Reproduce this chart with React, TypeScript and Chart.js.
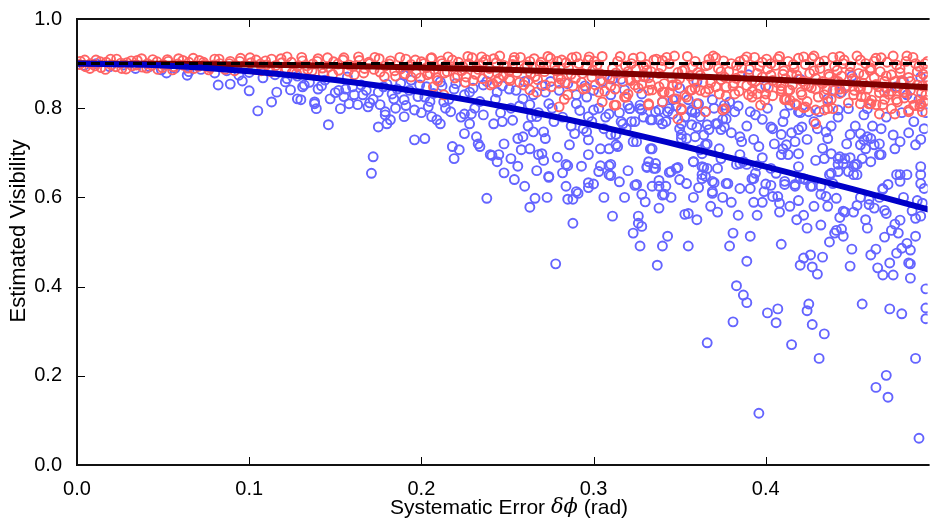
import React, { useEffect, useRef } from "react";
import { Chart, registerables } from "chart.js";

Chart.register(...registerables);

const xTicks = [0, 0.1, 0.2, 0.3, 0.4];
const yTicks = [0, 0.2, 0.4, 0.6, 0.8, 1.0];
const xMax = 0.494;

const curveX = [0, 0.05, 0.1, 0.15, 0.2, 0.25, 0.3, 0.35, 0.4, 0.45, 0.5];
const blueFit = [0.9, 0.896, 0.883, 0.863, 0.836, 0.802, 0.762, 0.717, 0.669, 0.619, 0.567];
const redFit = [0.9, 0.8995, 0.898, 0.895, 0.891, 0.886, 0.88, 0.873, 0.865, 0.856, 0.846];
const idealLevel = 0.9;

const bluePoints: [number, number][] = [
  [0.004,0.896],[0.011,0.9],[0.019,0.893],[0.027,0.897],[0.034,0.889],[0.042,0.893],[0.049,0.886],[0.057,0.89],[0.065,0.882],[0.072,0.887],[0.08,0.879],[0.087,0.884],[0.094,0.874],[0.1,0.88],[0.108,0.868],[0.115,0.875],[0.122,0.866],[0.128,0.872],
  [0.052,0.879],[0.064,0.874],[0.082,0.852],[0.089,0.854],[0.096,0.861],[0.1,0.839],[0.105,0.794],[0.113,0.814],[0.116,0.836],[0.121,0.859],[0.124,0.841],[0.128,0.821],[0.131,0.848],[0.138,0.814],[0.139,0.799],
  [0.13,0.819],[0.138,0.81],[0.146,0.763],[0.147,0.821],[0.153,0.799],[0.158,0.81],[0.163,0.808],[0.166,0.83],[0.169,0.803],[0.172,0.691],[0.171,0.654],[0.175,0.758],[0.176,0.808],[0.179,0.792],[0.179,0.785],[0.18,0.765],[0.182,0.774],[0.184,0.821],[0.19,0.819],[0.19,0.781],[0.196,0.729],[0.202,0.732],[0.196,0.796],[0.202,0.825],[0.204,0.803],[0.206,0.781],[0.209,0.774],[0.211,0.765],[0.213,0.814],[0.217,0.792],[0.218,0.714],[0.219,0.687],[0.222,0.707],[0.225,0.743],[0.225,0.787],[0.228,0.765],[0.229,0.787],[0.232,0.736],[0.233,0.72],[0.234,0.714],[0.238,0.598],[0.24,0.696],[0.242,0.765],[0.244,0.68],[0.245,0.696],[0.248,0.72],[0.247,0.77],[0.252,0.687],[0.254,0.64],[0.256,0.732],[0.259,0.736],[0.258,0.707],[0.263,0.709],[0.265,0.747],[0.264,0.781],[0.266,0.598],
  [0.132,0.852],[0.14,0.843],[0.156,0.843],[0.165,0.852],[0.175,0.836],[0.18,0.854],[0.186,0.843],[0.194,0.863],[0.199,0.852],[0.211,0.859],[0.219,0.843],[0.228,0.836],[0.236,0.852],[0.244,0.836],[0.251,0.843],[0.259,0.821],[0.263,0.808],[0.19,0.874],[0.157,0.87],[0.144,0.863],
  [0.135,0.858],[0.142,0.85],[0.15,0.835],[0.155,0.826],[0.16,0.848],[0.168,0.84],[0.172,0.82],[0.178,0.848],[0.183,0.832],[0.188,0.856],[0.193,0.84],[0.198,0.826],[0.203,0.848],[0.207,0.833],[0.212,0.85],[0.216,0.82],[0.22,0.855],[0.225,0.83],[0.23,0.845],[0.234,0.815],[0.238,0.86],[0.243,0.82],[0.247,0.85],[0.252,0.8],[0.255,0.84],[0.26,0.86],[0.265,0.83],[0.27,0.85],[0.275,0.86],[0.28,0.84],[0.285,0.855],[0.29,0.83],[0.295,0.85],[0.3,0.84],[0.305,0.86],[0.31,0.83],
  [0.152,0.84],[0.161,0.83],[0.17,0.812],[0.185,0.8],[0.191,0.806],[0.2,0.79],[0.205,0.815],[0.214,0.8],[0.223,0.78],[0.231,0.8],[0.236,0.785],[0.246,0.79],[0.253,0.773],[0.257,0.805],[0.262,0.76],[0.268,0.79],[0.276,0.8],[0.282,0.78],[0.287,0.76],[0.292,0.795],[0.299,0.77],[0.303,0.8],[0.307,0.78],[0.315,0.79],[0.319,0.755],[0.329,0.78],[0.336,0.792],[0.342,0.77],[0.348,0.805],[0.353,0.78],[0.359,0.79],[0.364,0.74],[0.37,0.8],[0.375,0.775],[0.38,0.745],[0.384,0.805],[0.389,0.76],[0.393,0.73],[0.398,0.775],[0.401,0.8],[0.405,0.72],[0.41,0.77],[0.415,0.745],[0.42,0.79],[0.424,0.73],[0.428,0.77],[0.433,0.71],[0.438,0.76],[0.442,0.78],[0.447,0.72],[0.452,0.76],[0.457,0.785],[0.462,0.76],[0.466,0.72],[0.47,0.78],[0.474,0.74],[0.479,0.79],[0.483,0.745],[0.486,0.77],[0.49,0.73],[0.493,0.79],
  [0.248,0.655],[0.256,0.67],[0.26,0.625],[0.267,0.66],[0.273,0.6],[0.279,0.69],[0.282,0.655],[0.293,0.67],[0.3,0.63],[0.306,0.6],[0.315,0.635],[0.318,0.6],[0.32,0.66],[0.33,0.59],[0.345,0.6],[0.35,0.64],[0.358,0.6],[0.36,0.55],[0.375,0.6],[0.385,0.62],[0.395,0.56],[0.4,0.63],[0.414,0.58],[0.418,0.55],[0.428,0.58],[0.436,0.58],[0.455,0.6],[0.458,0.55],[0.466,0.6],[0.48,0.6],[0.485,0.57],[0.492,0.62],
  [0.263,0.578],[0.274,0.645],[0.278,0.451],[0.284,0.625],[0.285,0.596],[0.288,0.596],[0.291,0.609],[0.29,0.613],[0.288,0.542],[0.297,0.622],[0.297,0.633],[0.297,0.696],[0.303,0.658],[0.304,0.671],[0.309,0.671],[0.309,0.651],[0.311,0.558],[0.285,0.671],[0.268,0.696],[0.271,0.683],[0.241,0.694],
  [0.31,0.649],[0.324,0.627],[0.328,0.607],[0.334,0.625],[0.338,0.638],[0.342,0.625],[0.34,0.605],[0.338,0.576],[0.326,0.558],[0.326,0.542],[0.328,0.535],[0.323,0.52],[0.327,0.491],[0.34,0.491],[0.343,0.513],[0.337,0.448],[0.354,0.631],[0.361,0.622],[0.363,0.651],[0.369,0.636],[0.37,0.633],[0.369,0.609],[0.368,0.58],[0.372,0.567],[0.353,0.562],[0.355,0.564],[0.355,0.491],[0.378,0.631],[0.38,0.589],[0.384,0.56],[0.381,0.52],[0.379,0.491],[0.391,0.513],[0.389,0.457],[0.366,0.274],[0.383,0.402],[0.387,0.381],[0.389,0.364],[0.381,0.321],[0.391,0.62],[0.393,0.589],[0.398,0.589],[0.393,0.642],[0.403,0.627],[0.404,0.602],[0.407,0.602],[0.408,0.587],[0.408,0.567],[0.411,0.629],[0.417,0.625],[0.419,0.593],[0.409,0.495],[0.401,0.341],[0.407,0.35],[0.406,0.319],[0.415,0.27],[0.396,0.116],[0.422,0.56],[0.424,0.531],[0.422,0.464],[0.42,0.448],[0.426,0.471],[0.427,0.444],[0.43,0.428],[0.433,0.466],[0.432,0.538],[0.425,0.361],[0.424,0.346],[0.427,0.315],[0.434,0.294],[0.431,0.239],[0.426,0.625],[0.432,0.625],[0.435,0.602],[0.437,0.5],[0.44,0.52],[0.441,0.526],[0.444,0.529],[0.445,0.513],[0.443,0.555],[0.446,0.567],[0.451,0.567],[0.453,0.582],[0.45,0.484],[0.449,0.446],[0.456,0.361],[0.459,0.531],[0.46,0.584],[0.463,0.576],[0.461,0.471],[0.464,0.484],[0.465,0.442],[0.468,0.426],[0.469,0.511],[0.468,0.618],[0.471,0.629],[0.469,0.571],[0.47,0.564],[0.473,0.526],[0.475,0.54],[0.478,0.549],[0.477,0.52],[0.476,0.475],[0.472,0.453],[0.474,0.426],[0.472,0.35],[0.479,0.339],[0.47,0.201],[0.464,0.174],[0.471,0.152],[0.479,0.486],[0.482,0.497],[0.484,0.482],[0.483,0.453],[0.484,0.451],[0.484,0.419],[0.487,0.239],[0.489,0.06],[0.487,0.513],[0.487,0.553],[0.49,0.558],[0.488,0.593],[0.491,0.587],[0.493,0.352],[0.493,0.328],[0.493,0.395],[0.478,0.651],[0.482,0.651],[0.49,0.651],[0.451,0.651],[0.437,0.651],
  [0.31,0.674],[0.332,0.68],[0.336,0.676],[0.331,0.667],[0.335,0.665],[0.344,0.656],[0.349,0.667],[0.358,0.68],[0.363,0.698],[0.364,0.667],[0.372,0.665],[0.374,0.687],[0.385,0.676],[0.387,0.68],[0.395,0.671],[0.398,0.689],[0.406,0.654],[0.409,0.696],[0.413,0.696],[0.419,0.669],[0.422,0.642],[0.429,0.683],[0.438,0.654],[0.442,0.687],[0.445,0.676],[0.446,0.687],[0.449,0.689],[0.451,0.669],[0.453,0.674],[0.439,0.631],[0.441,0.598],[0.445,0.569],[0.46,0.596],[0.467,0.696],[0.468,0.62],[0.49,0.669],
  [0.311,0.865],[0.316,0.865],[0.318,0.841],[0.321,0.799],[0.316,0.77],[0.322,0.77],[0.313,0.741],[0.313,0.718],[0.31,0.741],[0.325,0.725],[0.327,0.807],[0.328,0.796],[0.334,0.774],[0.334,0.709],[0.331,0.669],[0.338,0.774],[0.34,0.814],[0.344,0.799],[0.346,0.787],[0.35,0.754],[0.351,0.741],[0.351,0.732],[0.354,0.732],[0.357,0.763],[0.357,0.792],[0.36,0.758],[0.361,0.81],[0.362,0.707],[0.365,0.792],[0.365,0.718],[0.367,0.752],[0.371,0.765],[0.373,0.709],[0.376,0.758],[0.377,0.799],[0.376,0.807],[0.382,0.792],[0.385,0.736],[0.386,0.725],[0.385,0.696],[0.391,0.792],[0.394,0.785],[0.396,0.714],[0.403,0.758],[0.404,0.754],[0.409,0.741],[0.41,0.709],[0.412,0.718],[0.417,0.725],[0.419,0.698],[0.419,0.752],[0.421,0.758],[0.411,0.787],[0.414,0.807],[0.425,0.792],[0.43,0.754],[0.431,0.792],[0.435,0.747],[0.436,0.732],[0.434,0.687],[0.438,0.698],[0.443,0.691],[0.442,0.674],[0.448,0.799],[0.449,0.741],[0.455,0.743],[0.457,0.729],[0.459,0.736],[0.455,0.718],[0.458,0.709],[0.461,0.732],[0.463,0.718],[0.466,0.696],[0.467,0.754],[0.461,0.68],[0.456,0.687],[0.452,0.674],[0.475,0.709],[0.478,0.725],[0.487,0.718],[0.492,0.754],[0.482,0.83],[0.476,0.848],[0.489,0.819],[0.459,0.799],[0.442,0.796],[0.436,0.821],[0.444,0.836],[0.419,0.792],
  [0.325,0.629],[0.345,0.658],[0.348,0.665],[0.365,0.647],[0.383,0.674],[0.394,0.654],[0.403,0.665],[0.42,0.642],[0.448,0.658],
  [0.338,0.625],[0.341,0.607],[0.363,0.669],[0.369,0.613],[0.377,0.631],[0.389,0.674],[0.392,0.642],[0.399,0.613],[0.411,0.636],[0.417,0.629],[0.423,0.64],[0.427,0.625],[0.432,0.607],[0.442,0.658],[0.453,0.651],[0.478,0.636],[0.49,0.631],[0.476,0.651],
  [0.272,0.836],[0.274,0.81],[0.277,0.77],[0.271,0.747],[0.267,0.781],[0.27,0.698],[0.274,0.647],[0.284,0.674],[0.286,0.718],[0.289,0.743],[0.29,0.81],[0.294,0.754],[0.297,0.781],[0.297,0.729],[0.296,0.825],[0.3,0.796],[0.304,0.709],[0.309,0.787],[0.313,0.741],[0.32,0.807],[0.323,0.725],[0.328,0.832],[0.346,0.819],[0.355,0.819],[0.369,0.819],[0.379,0.814],
  [0.306,0.754],[0.309,0.709],[0.314,0.714],[0.317,0.765],[0.321,0.799],[0.324,0.77],[0.327,0.799],[0.333,0.709],[0.333,0.774],[0.338,0.796],[0.34,0.765],[0.336,0.665],[0.343,0.792],[0.351,0.765],[0.357,0.796],[0.359,0.736],[0.362,0.781],[0.366,0.763],[0.372,0.765],[0.374,0.752],[0.377,0.776],[0.366,0.72],[0.366,0.665],[0.363,0.642],[0.358,0.68],[0.272,0.732],[0.296,0.747],
  [0.33,0.87],[0.36,0.86],[0.39,0.875],[0.42,0.865],[0.45,0.872],[0.48,0.86],[0.35,0.845],[0.4,0.85],[0.44,0.84],[0.47,0.845],[0.49,0.87]
];

const redPoints: [number, number][] = [
  [0.002,0.905],[0.005,0.893],[0.008,0.9],[0.011,0.908],[0.014,0.891],[0.017,0.903],[0.02,0.897],[0.023,0.91],[0.026,0.889],[0.029,0.902],[0.032,0.895],[0.035,0.907],[0.038,0.892],[0.041,0.9],[0.044,0.909],[0.047,0.887],[0.05,0.898],[0.053,0.905],[0.056,0.893],[0.059,0.911],[0.062,0.896],[0.065,0.903],[0.068,0.889],[0.071,0.907],[0.074,0.898],[0.077,0.891],[0.08,0.91],[0.083,0.9],[0.086,0.887],[0.089,0.905],[0.092,0.895],[0.095,0.912],[0.098,0.89],[0.101,0.902],
  [0.0015,0.898],[0.0045,0.908],[0.0075,0.889],[0.0105,0.895],[0.0135,0.904],[0.0165,0.887],[0.0195,0.91],[0.0225,0.893],[0.0255,0.901],[0.0285,0.888],[0.0315,0.906],[0.0345,0.897],[0.0375,0.911],[0.0405,0.89],[0.0435,0.896],[0.0465,0.904],[0.0495,0.891],[0.0525,0.909],[0.0555,0.886],[0.0585,0.899],[0.0615,0.907],[0.0645,0.89],[0.0675,0.912],[0.0705,0.894],[0.0735,0.903],[0.0765,0.886],[0.0795,0.897],[0.0825,0.91],[0.0855,0.892],[0.0885,0.9],[0.0915,0.884],[0.0945,0.905],[0.0975,0.896],[0.1005,0.913],
  [0.104,0.908],[0.107,0.884],[0.11,0.897],[0.113,0.91],[0.116,0.889],[0.119,0.902],[0.122,0.915],[0.125,0.88],[0.128,0.894],[0.131,0.906],[0.134,0.887],[0.137,0.899],[0.14,0.911],[0.143,0.878],[0.146,0.892],[0.149,0.904],[0.152,0.885],[0.155,0.913],[0.158,0.897],[0.161,0.875],[0.164,0.907],[0.167,0.889],[0.17,0.9],[0.173,0.914],[0.176,0.881],[0.179,0.895],[0.182,0.906],[0.185,0.872],[0.188,0.888],[0.191,0.91],[0.194,0.898],[0.197,0.878],[0.2,0.904],
  [0.1035,0.887],[0.1065,0.899],[0.1095,0.906],[0.1125,0.882],[0.1155,0.896],[0.1185,0.911],[0.1215,0.889],[0.1245,0.903],[0.1275,0.878],[0.1305,0.914],[0.1335,0.895],[0.1365,0.884],[0.1395,0.905],[0.1425,0.89],[0.1455,0.913],[0.1485,0.876],[0.1515,0.899],[0.1545,0.908],[0.1575,0.883],[0.1605,0.894],[0.1635,0.915],[0.1665,0.879],[0.1695,0.903],[0.1725,0.887],[0.1755,0.911],[0.1785,0.871],[0.1815,0.899],[0.1845,0.884],[0.1875,0.914],[0.1905,0.877],[0.1935,0.893],[0.1965,0.908],[0.1995,0.868],
  [0.203,0.891],[0.206,0.913],[0.209,0.868],[0.212,0.9],[0.215,0.882],[0.218,0.908],[0.221,0.873],[0.224,0.894],[0.227,0.916],[0.23,0.862],[0.233,0.887],[0.236,0.903],[0.239,0.877],[0.242,0.911],[0.245,0.866],[0.248,0.896],[0.251,0.883],[0.254,0.914],[0.257,0.858],[0.26,0.89],[0.263,0.905],[0.266,0.871],[0.269,0.897],[0.272,0.852],[0.275,0.912],[0.278,0.884],[0.281,0.865],[0.284,0.902],[0.287,0.876],[0.29,0.915],[0.293,0.858],[0.296,0.893],[0.299,0.87],
  [0.205,0.878],[0.214,0.895],[0.226,0.87],[0.235,0.915],[0.244,0.88],[0.253,0.898],[0.262,0.862],[0.271,0.89],[0.279,0.905],[0.288,0.85],[0.297,0.908],
  [0.2015,0.9],[0.2035,0.875],[0.2055,0.912],[0.2075,0.887],[0.2095,0.862],[0.2115,0.906],[0.2135,0.879],[0.2155,0.915],[0.2175,0.893],[0.2195,0.868],[0.2215,0.903],[0.2235,0.884],[0.2255,0.858],[0.2275,0.9],[0.2295,0.913],[0.2315,0.876],[0.2335,0.896],[0.2355,0.866],[0.2375,0.909],[0.2395,0.889],[0.2415,0.855],[0.2435,0.902],[0.2455,0.917],[0.2475,0.873],[0.2495,0.891],[0.2515,0.862],[0.2535,0.907],[0.2555,0.88],[0.2575,0.914],[0.2595,0.852],[0.2615,0.896],[0.2635,0.877],[0.2655,0.911],[0.2675,0.864],[0.2695,0.903],[0.2715,0.882],[0.2735,0.916],[0.2755,0.848],[0.2775,0.895],[0.2795,0.871],[0.2815,0.908],[0.2835,0.857],[0.2855,0.89],[0.2875,0.913],[0.2895,0.867],[0.2915,0.9],[0.2935,0.878],[0.2955,0.845],[0.2975,0.915],[0.2995,0.885],
  [0.302,0.897],[0.305,0.916],[0.308,0.872],[0.311,0.889],[0.314,0.905],[0.317,0.86],[0.32,0.882],[0.323,0.912],[0.326,0.845],[0.329,0.894],[0.332,0.868],[0.335,0.908],[0.338,0.878],[0.341,0.855],[0.344,0.9],[0.347,0.917],[0.35,0.866],[0.353,0.886],[0.356,0.84],[0.359,0.905],[0.362,0.874],[0.365,0.895],[0.368,0.857],[0.371,0.913],[0.374,0.882],[0.377,0.848],[0.38,0.9],[0.383,0.867],[0.386,0.89],[0.389,0.915],[0.392,0.838],[0.395,0.878],[0.398,0.903],
  [0.304,0.862],[0.313,0.879],[0.322,0.9],[0.331,0.885],[0.34,0.907],[0.349,0.88],[0.358,0.862],[0.367,0.91],[0.376,0.87],[0.385,0.905],[0.394,0.86],[0.31,0.85],[0.325,0.868],[0.346,0.85],[0.362,0.84],[0.381,0.85],[0.397,0.845],
  [0.3005,0.905],[0.3035,0.878],[0.3065,0.838],[0.3095,0.866],[0.3125,0.843],[0.3155,0.916],[0.3185,0.895],[0.32,0.832],[0.3215,0.862],[0.3245,0.887],[0.3275,0.915],[0.329,0.871],[0.3305,0.898],[0.332,0.84],[0.3335,0.882],[0.3365,0.91],[0.338,0.848],[0.3395,0.892],[0.3425,0.914],[0.344,0.835],[0.3455,0.868],[0.3485,0.853],[0.3515,0.884],[0.353,0.829],[0.3545,0.916],[0.356,0.872],[0.3575,0.893],[0.359,0.845],[0.3605,0.88],[0.3635,0.858],[0.365,0.836],[0.3665,0.897],[0.3695,0.917],[0.371,0.848],[0.3725,0.889],[0.374,0.864],[0.3755,0.906],[0.377,0.827],[0.3785,0.882],[0.3815,0.856],[0.383,0.896],[0.3845,0.838],[0.386,0.873],[0.3875,0.909],[0.389,0.851],[0.3905,0.887],[0.392,0.862],[0.3935,0.914],[0.395,0.832],[0.3965,0.894],[0.398,0.87],[0.3995,0.818],
  [0.401,0.888],[0.404,0.862],[0.407,0.91],[0.41,0.876],[0.413,0.84],[0.416,0.898],[0.419,0.865],[0.422,0.915],[0.425,0.85],[0.428,0.884],[0.431,0.903],[0.434,0.83],[0.437,0.871],[0.44,0.894],[0.443,0.916],[0.446,0.845],[0.449,0.88],[0.452,0.862],[0.455,0.908],[0.458,0.825],[0.461,0.89],[0.464,0.853],[0.467,0.913],[0.47,0.872],[0.473,0.838],[0.476,0.897],[0.479,0.862],[0.482,0.917],[0.485,0.822],[0.488,0.882],[0.491,0.85],[0.494,0.905],
  [0.403,0.9],[0.409,0.85],[0.415,0.875],[0.421,0.83],[0.427,0.912],[0.433,0.86],[0.439,0.84],[0.445,0.9],[0.451,0.83],[0.457,0.875],[0.463,0.905],[0.469,0.82],[0.475,0.86],[0.481,0.835],[0.487,0.9],[0.493,0.83],[0.412,0.82],[0.436,0.815],[0.454,0.848],[0.466,0.835],[0.478,0.88],[0.49,0.81],[0.484,0.86],[0.46,0.81],[0.442,0.86],
  [0.4005,0.91],[0.4015,0.846],[0.403,0.874],[0.404,0.828],[0.4055,0.896],[0.4065,0.858],[0.408,0.916],[0.409,0.838],[0.4105,0.884],[0.4115,0.866],[0.413,0.905],[0.414,0.818],[0.4155,0.852],[0.4165,0.89],[0.418,0.874],[0.419,0.912],[0.4205,0.836],[0.4215,0.86],[0.423,0.898],[0.424,0.815],[0.4255,0.878],[0.4265,0.846],[0.428,0.917],[0.429,0.867],[0.4305,0.825],[0.4315,0.889],[0.433,0.855],[0.434,0.906],[0.4355,0.842],[0.4365,0.876],[0.438,0.82],[0.439,0.914],[0.4405,0.862],[0.4415,0.885],[0.443,0.833],[0.444,0.872],[0.4455,0.908],[0.4465,0.85],[0.448,0.812],[0.449,0.894],[0.4505,0.866],[0.4515,0.84],[0.453,0.917],[0.454,0.878],[0.4555,0.826],[0.4565,0.856],[0.458,0.9],[0.459,0.843],[0.4605,0.885],[0.4615,0.818],[0.463,0.869],[0.464,0.912],[0.4655,0.848],[0.4665,0.882],[0.468,0.808],[0.469,0.86],[0.4705,0.903],[0.4715,0.831],[0.473,0.875],[0.474,0.917],[0.4755,0.846],[0.4765,0.814],[0.478,0.889],[0.479,0.858],[0.4805,0.823],[0.4815,0.905],[0.483,0.869],[0.484,0.84],[0.4855,0.914],[0.4865,0.806],[0.488,0.852],[0.489,0.894],[0.4905,0.834],[0.4915,0.876],[0.493,0.818],[0.494,0.862],[0.4925,0.9],[0.4895,0.804],
  [0.207,0.848],[0.213,0.83],[0.194,0.87],[0.24,0.852],[0.244,0.859],[0.251,0.866],[0.263,0.841],[0.267,0.836],[0.28,0.803],[0.285,0.83],[0.283,0.82],[0.294,0.843],[0.303,0.836],[0.305,0.814],[0.313,0.807],[0.318,0.825],[0.332,0.807],[0.34,0.836],[0.34,0.814],[0.347,0.821],[0.351,0.799],[0.349,0.776],[0.36,0.81],[0.365,0.792],[0.373,0.832],[0.375,0.796],[0.346,0.852],[0.333,0.854],[0.324,0.852],[0.301,0.852],[0.28,0.856],
  [0.429,0.765],[0.332,0.81],[0.319,0.825],[0.312,0.807],[0.341,0.836],[0.351,0.796],[0.376,0.799],[0.392,0.825],[0.397,0.807],[0.411,0.819],[0.418,0.807],[0.423,0.803],[0.429,0.796],[0.434,0.796],[0.409,0.843],[0.455,0.81],[0.461,0.81],[0.464,0.808],[0.466,0.787],[0.473,0.799],[0.483,0.796],[0.476,0.819],[0.492,0.814],[0.491,0.792],[0.48,0.836],[0.469,0.836],[0.455,0.843],[0.443,0.843],[0.429,0.843],[0.423,0.852],[0.414,0.841],[0.4,0.832],[0.39,0.83],[0.382,0.832],[0.367,0.843],[0.357,0.841],[0.354,0.825],[0.348,0.821],[0.334,0.841],[0.328,0.854],[0.321,0.865],
  [0.436,0.799],[0.439,0.799],[0.422,0.801],[0.417,0.81],[0.411,0.821],[0.475,0.787],[0.483,0.792],[0.46,0.81],[0.486,0.807],[0.493,0.87]
];

const FONT = "'Liberation Sans', Arial, Helvetica, sans-serif";
const yTitle = "Estimated Visibility";
const xTitleParts: [string, boolean][] = [["Systematic Error ", false], ["δϕ", true], [" (rad)", false]];

const framePlugin = {
  id: "framePlugin",
  afterDraw(chart: any) {
    const { ctx, chartArea: a, scales } = chart;
    const xs = scales.x;
    const ys = scales.y;
    ctx.save();
    ctx.strokeStyle = "#000";
    ctx.lineWidth = 1;
    ctx.beginPath();
    for (const t of xTicks) {
      const px = Math.round(xs.getPixelForValue(t)) + 0.5;
      ctx.moveTo(px, a.bottom);
      ctx.lineTo(px, a.bottom - 8);
      ctx.moveTo(px, a.top);
      ctx.lineTo(px, a.top + 8);
    }
    for (const t of yTicks) {
      const py = Math.round(ys.getPixelForValue(t)) + 0.5;
      ctx.moveTo(a.left, py);
      ctx.lineTo(a.left + 8, py);
    }
    ctx.stroke();
    ctx.lineWidth = 2;
    ctx.strokeStyle = "#111";
    ctx.beginPath();
    ctx.moveTo(a.right + 2, a.top);
    ctx.lineTo(a.left, a.top);
    ctx.lineTo(a.left, a.bottom);
    ctx.lineTo(a.right + 2, a.bottom);
    ctx.stroke();

    ctx.fillStyle = "#000";
    ctx.font = `22px ${FONT}`;
    ctx.textAlign = "center";
    ctx.textBaseline = "middle";
    ctx.save();
    ctx.translate(19, 231);
    ctx.rotate(-Math.PI / 2);
    ctx.fillText(yTitle, 0, 0);
    ctx.restore();

    const fontOf = (it: boolean) => (it ? `italic 21px 'DejaVu Serif', serif` : `21px ${FONT}`);
    let total = 0;
    for (const [s, it] of xTitleParts) {
      ctx.font = fontOf(it);
      total += ctx.measureText(s).width;
    }
    let x = 509 - total / 2;
    ctx.textAlign = "left";
    for (const [s, it] of xTitleParts) {
      ctx.font = fontOf(it);
      ctx.fillText(s, x, 508);
      x += ctx.measureText(s).width;
    }
    ctx.restore();
  },
};

export default function App() {
  const ref = useRef<HTMLCanvasElement | null>(null);
  useEffect(() => {
    if (!ref.current) return;
    const fit = (vals: number[]) => curveX.map((x, i) => ({ x, y: vals[i] }));
    const scatterStyle = (color: string) => ({
      pointStyle: "circle",
      pointRadius: 4.5,
      pointBorderWidth: 1.9,
      borderColor: color,
      pointBorderColor: color,
      backgroundColor: "rgba(0,0,0,0)",
      pointBackgroundColor: "rgba(0,0,0,0)",
    });
    const chart = new Chart(ref.current, {
      type: "scatter",
      data: {
        datasets: [
          {
            data: [{ x: 0, y: idealLevel }, { x: 0.5, y: idealLevel }],
            showLine: true,
            borderColor: "#000",
            borderWidth: 3,
            borderDash: [9, 5],
            pointRadius: 0,
            order: 0,
          },
          {
            data: fit(blueFit),
            showLine: true,
            borderColor: "#0000c8",
            borderWidth: 6,
            pointRadius: 0,
            cubicInterpolationMode: "monotone",
            order: 1,
          },
          {
            data: fit(redFit),
            showLine: true,
            borderColor: "#800000",
            borderWidth: 6,
            pointRadius: 0,
            cubicInterpolationMode: "monotone",
            order: 2,
          },
          {
            data: redPoints.map(([x, y]) => ({ x, y })),
            ...scatterStyle("#ff6464"),
            order: 3,
          },
          {
            data: bluePoints.map(([x, y]) => ({ x, y })),
            ...scatterStyle("#6464ff"),
            order: 4,
          },
        ] as any,
      },
      options: {
        animation: false,
        responsive: false,
        devicePixelRatio: 1,
        events: [],
        layout: { padding: { top: 17, left: 0, right: 0, bottom: 0 } },
        plugins: { legend: { display: false }, tooltip: { enabled: false } },
        scales: {
          x: {
            type: "linear",
            min: 0,
            max: xMax,
            grid: { display: false },
            border: { display: false },
            ticks: {
              stepSize: 0.1,
              includeBounds: false,
              autoSkip: false,
              maxRotation: 0,
              padding: 4,
              color: "#000",
              font: { family: FONT, size: 20 },
              callback: (v: any) => Number(v).toFixed(1),
            },
            afterFit: (s: any) => {
              s.height = 57;
            },
          },
          y: {
            type: "linear",
            min: 0,
            max: 1,
            grid: { display: false },
            border: { display: false },
            ticks: {
              stepSize: 0.2,
              padding: 7,
              color: "#000",
              font: { family: FONT, size: 20 },
              callback: (v: any) => Number(v).toFixed(1),
            },
            afterFit: (s: any) => {
              s.width = 77;
            },
          },
        },
      } as any,
      plugins: [framePlugin],
    });
    return () => chart.destroy();
  }, []);
  return (
    <div style={{ position: "fixed", left: 0, top: 0, width: 934, height: 522, background: "#fff", overflow: "hidden" }}>
      <canvas ref={ref} width={934} height={522} style={{ display: "block" }} />
    </div>
  );
}
